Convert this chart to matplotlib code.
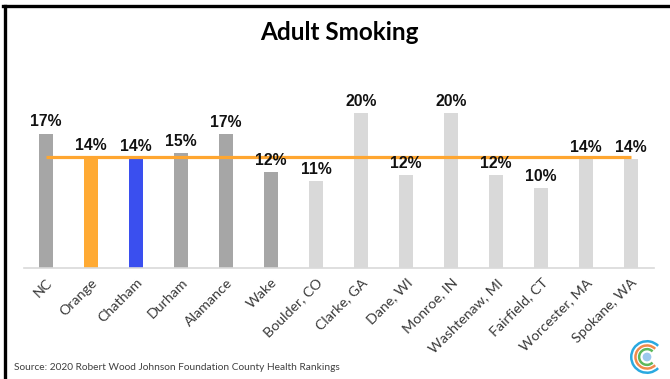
import matplotlib
matplotlib.use('Agg')
import matplotlib.pyplot as plt
from matplotlib.lines import Line2D
from matplotlib.patches import Arc, Circle

# county smoking rates (%)
counties = ['NC', 'Orange', 'Chatham', 'Durham', 'Alamance', 'Wake', 'Boulder, CO',
            'Clarke, GA', 'Dane, WI', 'Monroe, IN', 'Washtenaw, MI', 'Fairfield, CT',
            'Worcester, MA', 'Spokane, WA']
smoking = [17.3, 14.3, 14.2, 14.8, 17.2, 12.3, 11.2, 20.0, 12.0, 20.0, 12.0, 10.3, 14.0, 14.0]
benchmark = 14.3  # Orange county line

DARK = '#A6A6A6'
LIGHT = '#D9D9D9'
colors = [DARK, '#FFAA33', '#3A4FEF', DARK, DARK, DARK] + [LIGHT] * 8

W, H = 670, 379
fig = plt.figure(figsize=(W / 100, H / 100), dpi=100)
ax = fig.add_axes([23.5 / W, 111 / H, 630 / W, (268 - 112.7) / H])

x = list(range(len(counties)))
ax.bar(x, smoking, width=0.31, color=colors, zorder=2)
ax.plot([x[0], x[-1]], [benchmark, benchmark], color='#FFA630', lw=2.3, zorder=3,
        solid_capstyle='butt')

for i, v in zip(x, smoking):
    ax.annotate(f'{round(v)}%', (i, v), xytext=(0, 3), textcoords='offset points',
                ha='center', va='bottom', fontsize=11.3, fontweight='bold',
                family='Liberation Sans', color='#111111', annotation_clip=False, zorder=4)

ax.set_xlim(-0.5, len(counties) - 0.5)
ax.set_ylim(0, 20)
ax.set_yticks([])
ax.set_xticks(x)
ax.set_xticklabels(counties, rotation=45, ha='right', rotation_mode='anchor',
                   fontsize=10.3, family='Lato', color='#3a3a3a')
ax.tick_params(axis='x', length=0, pad=6)
for s in ['left', 'right', 'top']:
    ax.spines[s].set_visible(False)
ax.spines['bottom'].set_color(LIGHT)
ax.spines['bottom'].set_linewidth(1.2)

fig.text(339.5 / W, 1 - 33 / H, 'Adult Smoking', ha='center', va='center',
         fontsize=17.5, fontweight='bold', family='Lato')
fig.text(14 / W, 1 - 368 / H, 'Source: 2020 Robert Wood Johnson Foundation County Health Rankings',
         ha='left', va='center', fontsize=7.3, family='Lato', color='#404040')

# frame
fig.add_artist(Line2D([4.5 / W, 4.5 / W], [0, 1 - 6 / H], color='black', lw=2.4))
fig.add_artist(Line2D([3.3 / W, 1], [1 - 6 / H, 1 - 6 / H], color='black', lw=2.4))

# logo
lax = fig.add_axes([626 / W, 1 - 378 / H, 42 / W, 42 / H])
lax.set_xlim(-20, 20)
lax.set_ylim(-20, 20)
lax.set_aspect('equal')
lax.axis('off')
for r, c in [(15, '#2AA9E0'), (11, '#F08A4B'), (7.5, '#5CB85C')]:
    lax.add_patch(Arc((0, 0), 2 * r, 2 * r, theta1=45, theta2=315, color=c, lw=1.8))
lax.add_patch(Circle((0, 0), 3.5, color='#9CC8EE'))

fig.savefig('out.png', dpi=100)
